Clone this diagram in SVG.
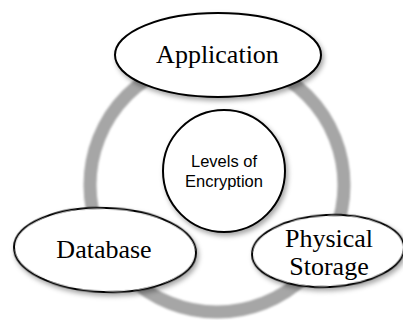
<svg xmlns="http://www.w3.org/2000/svg" width="403" height="320" viewBox="0 0 403 320">
<defs>
<filter id="sh" x="-20%" y="-20%" width="140%" height="150%">
<feDropShadow dx="2" dy="3" stdDeviation="2.5" flood-color="#000" flood-opacity="0.35"/>
</filter>
<filter id="soft" x="-10%" y="-10%" width="120%" height="120%">
<feGaussianBlur stdDeviation="0.8"/>
</filter>
</defs>
<style>
.node{fill:#fff;stroke:#000;stroke-width:2}
.serif{font-family:"Liberation Serif","Times New Roman",serif;font-size:26px;fill:#000;text-anchor:middle}
.sans{font-family:"Liberation Sans",Arial,sans-serif;font-size:16.5px;fill:#000;text-anchor:middle}
</style>
<rect width="403" height="320" fill="#fff"/>
<g id="connectors">
<circle cx="217" cy="185" r="127" fill="none" stroke="#a6a6a6" stroke-width="13" filter="url(#soft)"/>
</g>
<g id="center">
<circle class="node" cx="224" cy="171" r="61" filter="url(#sh)"/>
<text class="sans" x="224" y="167">Levels of</text>
<text class="sans" x="224" y="187">Encryption</text>
</g>
<g id="application">
<ellipse class="node" cx="218" cy="55" rx="103" ry="42" filter="url(#sh)"/>
<text class="serif" x="217.5" y="63">Application</text>
</g>
<g id="database">
<ellipse class="node" cx="105" cy="250" rx="91" ry="42" transform="rotate(2 105 250)" filter="url(#sh)"/>
<text class="serif" x="104" y="258">Database</text>
</g>
<g id="physical-storage">
<ellipse class="node" cx="328" cy="251" rx="76" ry="36" transform="rotate(-3 328 251)" filter="url(#sh)"/>
<text class="serif" x="329" y="247">Physical</text>
<text class="serif" x="329" y="275">Storage</text>
</g>
</svg>
